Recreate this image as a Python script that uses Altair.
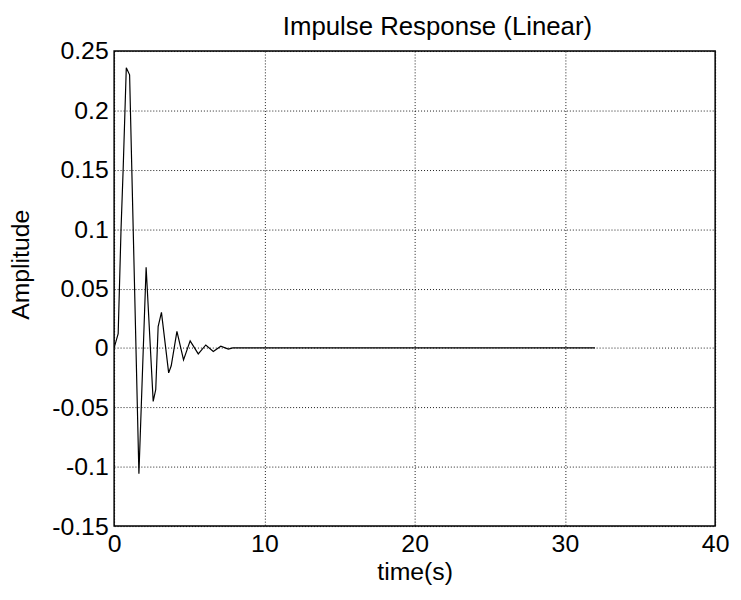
import altair as alt
import pandas as pd

# Impulse response samples
time_s = [0, 0.27, 0.46, 0.6, 0.81, 1.03, 1.65, 2.13, 2.6, 2.77, 2.93, 3.15,
          3.63, 3.8, 4.18, 4.62, 5.06, 5.6, 6.1, 6.6, 7.1, 7.6, 7.9, 32]
amplitude = [0, 0.012, 0.1, 0.15, 0.236, 0.230, -0.106, 0.068, -0.045, -0.035,
             0.018, 0.030, -0.021, -0.015, 0.014, -0.010, 0.006, -0.005,
             0.0025, -0.003, 0.0015, -0.001, 0, 0]

x_ticks = [0, 10, 20, 30, 40]
y_ticks = [-0.15, -0.1, -0.05, 0, 0.05, 0.1, 0.15, 0.2, 0.25]
title_text = ["Impulse Response (Linear)"]

df = pd.DataFrame({"t": time_s, "a": amplitude})
tdf = pd.DataFrame({"title": title_text})

FONT = "Liberation Sans"

line = (
    alt.Chart(df)
    .mark_line(color="black", strokeWidth=1.2, clip=True)
    .encode(
        x=alt.X(
            "t:Q",
            scale=alt.Scale(domain=[0, 40], nice=False),
            axis=alt.Axis(
                values=x_ticks,
                title="time(s)",
                titleY=54,
                titleBaseline="alphabetic",
                labelPadding=6,
                labelFlush=False,
                labelOverlap=False,
            ),
        ),
        y=alt.Y(
            "a:Q",
            scale=alt.Scale(domain=[-0.15, 0.25], nice=False),
            axis=alt.Axis(
                values=y_ticks,
                title="Amplitude",
                titleX=-81,
                titleY=215,
                labelPadding=6,
                labelFlush=False,
                labelOverlap=False,
                labelExpr="replace(format(datum.value, '~g'), '\u2212', '-')",
            ),
        ),
    )
)

title = (
    alt.Chart(tdf)
    .mark_text(
        font=FONT,
        fontSize=26,
        color="black",
        align="center",
        baseline="alphabetic",
        clip=False,
    )
    .encode(text="title:N", x=alt.value(326), y=alt.value(-16))
)

chart = (
    alt.layer(line, title)
    .properties(
        width=606,
        height=479,
        autosize=alt.AutoSizeParams(type="none"),
        padding={"left": 107, "top": 41, "right": 18, "bottom": 58},
    )
    .configure_view(stroke="black", strokeWidth=1.5)
    .configure_axis(
        labelFont=FONT,
        labelFontSize=25,
        labelColor="black",
        titleFont=FONT,
        titleFontSize=25,
        titleFontWeight="normal",
        titleColor="black",
        grid=True,
        gridColor="black",
        gridDash=[1, 2],
        gridWidth=1,
        gridOpacity=0.9,
        tickSize=0,
        domain=False,
    )
)

chart.save("out.html", embed_options={"renderer": "svg", "actions": False})
